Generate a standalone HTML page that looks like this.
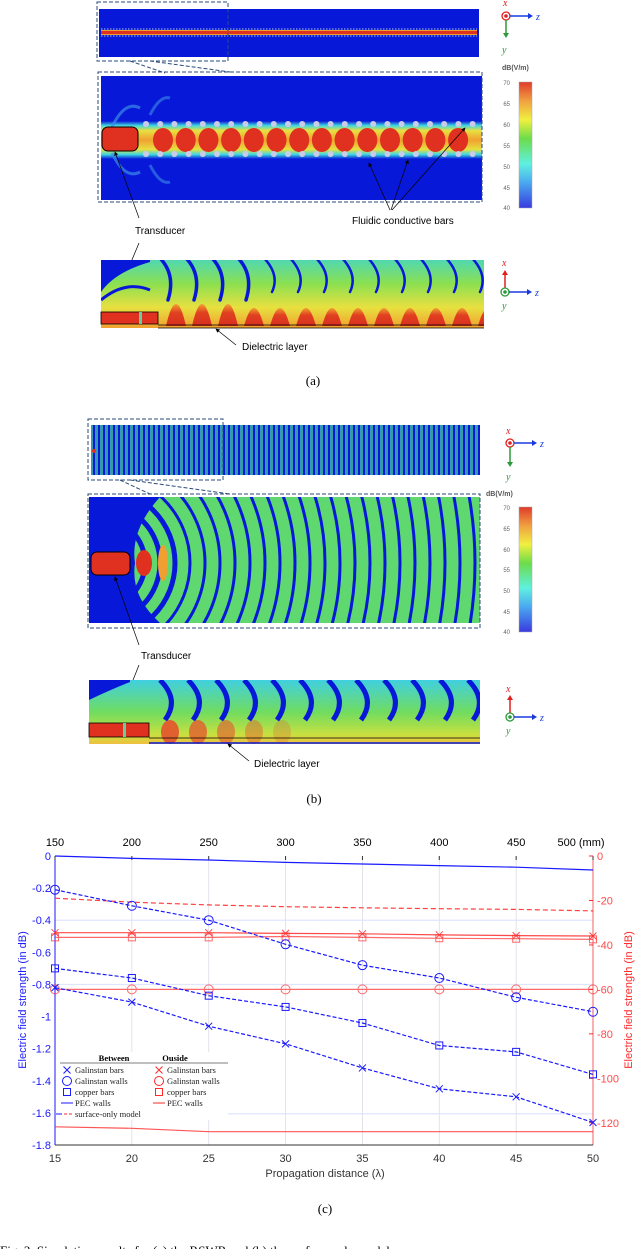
<!DOCTYPE html>
<html><head><meta charset="utf-8">
<style>
html,body{margin:0;padding:0;background:#fff;width:640px;height:1249px;overflow:hidden}
svg{display:block}
.sans{font-family:"Liberation Sans",sans-serif}
.serif{font-family:"Liberation Serif",serif}
</style></head>
<body>
<svg id="page" width="640" height="1249" viewBox="0 0 640 1249" xmlns="http://www.w3.org/2000/svg">
<defs>
  <linearGradient id="cbar" x1="0" y1="1" x2="0" y2="0">
    <stop offset="0" stop-color="#3a3ae0"/><stop offset="0.2" stop-color="#4aa8f0"/>
    <stop offset="0.35" stop-color="#5ff0e0"/><stop offset="0.55" stop-color="#6cdc4a"/>
    <stop offset="0.7" stop-color="#f0f040"/><stop offset="0.85" stop-color="#f0a040"/>
    <stop offset="1" stop-color="#e03a2a"/>
  </linearGradient>
  <linearGradient id="bandA" x1="0" y1="0" x2="0" y2="1">
    <stop offset="0" stop-color="#0818d8"/><stop offset="0.12" stop-color="#40d8e0"/>
    <stop offset="0.25" stop-color="#e8e040"/><stop offset="0.5" stop-color="#f0a030"/>
    <stop offset="0.75" stop-color="#e8e040"/><stop offset="0.88" stop-color="#40d8e0"/>
    <stop offset="1" stop-color="#0818d8"/>
  </linearGradient>
  <linearGradient id="sideA" x1="0" y1="0" x2="0" y2="1">
    <stop offset="0" stop-color="#50d8b0"/><stop offset="0.35" stop-color="#8ce050"/>
    <stop offset="0.7" stop-color="#e8e040"/><stop offset="1" stop-color="#f0a030"/>
  </linearGradient>
  <linearGradient id="sideB" x1="0" y1="0" x2="0" y2="1">
    <stop offset="0" stop-color="#40d0e0"/><stop offset="0.5" stop-color="#70dc60"/>
    <stop offset="0.85" stop-color="#c8e040"/><stop offset="1" stop-color="#f0c040"/>
  </linearGradient>
  <linearGradient id="bump" x1="0" y1="0" x2="0" y2="1">
    <stop offset="0" stop-color="#f0a030"/><stop offset="0.4" stop-color="#e04020"/><stop offset="1" stop-color="#d83020"/>
  </linearGradient>
  <pattern id="stripesB" width="5" height="10" patternUnits="userSpaceOnUse">
    <rect width="5" height="10" fill="#40c8a0"/><rect x="3" width="2" height="10" fill="#0818d8"/>
  </pattern>
  <clipPath id="clipBz"><rect x="89" y="497" width="391" height="126"/></clipPath>
  <clipPath id="clipBs"><rect x="89" y="680" width="391" height="64"/></clipPath>
  <clipPath id="clipAs"><rect x="101" y="260" width="383" height="68"/></clipPath>
  <clipPath id="clipAz"><rect x="101" y="76" width="381" height="124"/></clipPath>
  <marker id="ah" markerWidth="6" markerHeight="6" refX="5" refY="3" orient="auto"><path d="M0,0 L6,3 L0,6 z" fill="#000"/></marker>
</defs>

<!-- ================= PANEL A ================= -->
<g>
  <rect x="99" y="9" width="380" height="48" fill="#0818d8"/>
  <rect x="101" y="30" width="376" height="5" fill="#e8a030"/>
  <rect x="101" y="31" width="376" height="3" fill="#e03020"/>
  <line x1="101" y1="29" x2="477" y2="29" stroke="#b0c0e0" stroke-dasharray="1.5,1.5"/>
  <line x1="101" y1="36" x2="477" y2="36" stroke="#b0c0e0" stroke-dasharray="1.5,1.5"/>
  <rect x="97" y="2" width="131" height="59" fill="none" stroke="#2a4a7a" stroke-dasharray="4,2"/>
  <line x1="130" y1="61" x2="165" y2="73" stroke="#2a4a7a" stroke-dasharray="4,2"/>
  <line x1="150" y1="61" x2="230" y2="72" stroke="#2a4a7a" stroke-dasharray="4,2"/>

  <g>
    <rect x="101" y="76" width="381" height="124" fill="#0818d8"/>
    <g clip-path="url(#clipAz)">
      <rect x="101" y="121" width="381" height="38" fill="url(#bandA)"/>
      <path d="M112,127 Q125,100 140,108" stroke="#3a8ce8" stroke-width="3" fill="none" opacity="0.7"/>
      <path d="M112,153 Q125,180 140,172" stroke="#3a8ce8" stroke-width="3" fill="none" opacity="0.7"/>
      <path d="M150,115 Q160,95 170,98" stroke="#3a8ce8" stroke-width="3" fill="none" opacity="0.6"/>
      <path d="M150,165 Q160,185 170,182" stroke="#3a8ce8" stroke-width="3" fill="none" opacity="0.6"/>
      <g id="aEll"></g>
      <g id="aDots"></g>
      <rect x="102" y="127" width="36" height="24" rx="6" fill="#e03020" stroke="#000" stroke-width="1"/>
    </g>
    <rect x="98" y="72" width="384" height="130" fill="none" stroke="#2a4a7a" stroke-dasharray="4,2"/>
  </g>

  <g>
    <text class="sans" x="502" y="70" font-size="7" font-weight="bold" fill="#555">dB(V/m)</text>
    <rect x="519" y="82" width="13" height="126" fill="url(#cbar)" stroke="#aaa" stroke-width="0.5"/>
    <g class="sans" font-size="6" fill="#666" text-anchor="end">
      <text x="510" y="85">70</text><text x="510" y="106">65</text><text x="510" y="127">60</text>
      <text x="510" y="148">55</text><text x="510" y="169">50</text><text x="510" y="190">45</text><text x="510" y="210">40</text>
    </g>
  </g>

  <g>
    <text class="serif" x="503" y="6" font-size="10" font-style="italic" fill="#e02020">x</text>
    <circle cx="506" cy="16" r="4" fill="none" stroke="#e02020" stroke-width="1.3"/><circle cx="506" cy="16" r="1.8" fill="#e02020"/>
    <line x1="510" y1="16" x2="528" y2="16" stroke="#1a3ae0" stroke-width="1.5"/><path d="M528,13 L533,16 L528,19z" fill="#1a3ae0"/>
    <text class="serif" x="536" y="20" font-size="10" font-style="italic" fill="#1a3ae0">z</text>
    <line x1="506" y1="20" x2="506" y2="33" stroke="#2a9a3a" stroke-width="1.5"/><path d="M503,33 L506,38 L509,33z" fill="#2a9a3a"/>
    <text class="serif" x="502" y="53" font-size="10" font-style="italic" fill="#2a9a3a">y</text>
  </g>

  <text class="sans" x="352" y="224" font-size="10" fill="#000">Fluidic conductive bars</text>
  <line x1="390" y1="210" x2="369" y2="163" stroke="#000" stroke-width="0.7" marker-end="url(#ah)"/>
  <line x1="391" y1="210" x2="408" y2="160" stroke="#000" stroke-width="0.7" marker-end="url(#ah)"/>
  <line x1="392" y1="210" x2="465" y2="128" stroke="#000" stroke-width="0.7" marker-end="url(#ah)"/>
  <text class="sans" x="135" y="234" font-size="10" fill="#000">Transducer</text>
  <line x1="139" y1="218" x2="115" y2="152" stroke="#000" stroke-width="0.7" marker-end="url(#ah)"/>
  <line x1="139" y1="243" x2="111" y2="310" stroke="#000" stroke-width="0.7" marker-end="url(#ah)"/>

  <g>
    <rect x="101" y="260" width="383" height="68" fill="url(#sideA)"/>
    <g clip-path="url(#clipAs)" id="aSide"></g>
    <rect x="101" y="312" width="57" height="12" fill="#e03020" stroke="#000" stroke-width="0.8"/>
    <rect x="139" y="312" width="3" height="12" fill="#60d0a0"/>
    <line x1="158" y1="325" x2="484" y2="325" stroke="#000" stroke-width="0.8"/>
    <line x1="158" y1="328" x2="484" y2="328" stroke="#000" stroke-width="0.8"/>
  </g>
  <g>
    <text class="serif" x="502" y="266" font-size="10" font-style="italic" fill="#e02020">x</text>
    <line x1="505" y1="288" x2="505" y2="275" stroke="#e02020" stroke-width="1.5"/><path d="M502,275 L505,270 L508,275z" fill="#e02020"/>
    <circle cx="505" cy="292" r="4" fill="none" stroke="#2a9a3a" stroke-width="1.3"/><circle cx="505" cy="292" r="1.8" fill="#2a9a3a"/>
    <line x1="509" y1="292" x2="527" y2="292" stroke="#1a3ae0" stroke-width="1.5"/><path d="M527,289 L532,292 L527,295z" fill="#1a3ae0"/>
    <text class="serif" x="535" y="296" font-size="10" font-style="italic" fill="#1a3ae0">z</text>
    <text class="serif" x="502" y="309" font-size="10" font-style="italic" fill="#2a9a3a">y</text>
  </g>
  <text class="sans" x="242" y="350" font-size="10" fill="#000">Dielectric layer</text>
  <line x1="236" y1="345" x2="216" y2="329" stroke="#000" stroke-width="0.7" marker-end="url(#ah)"/>
  <text class="serif" x="313" y="385" font-size="13" text-anchor="middle">(a)</text>
</g>

<!-- ================= PANEL B ================= -->
<g>
  <rect x="91" y="425" width="389" height="50" fill="url(#stripesB)"/>
  <rect x="91" y="425" width="389" height="50" fill="#0818d8" opacity="0.25"/>
  <circle cx="94" cy="451" r="2" fill="#e03020"/>
  <rect x="88" y="419" width="135" height="61" fill="none" stroke="#2a4a7a" stroke-dasharray="4,2"/>
  <line x1="120" y1="480" x2="150" y2="494" stroke="#2a4a7a" stroke-dasharray="4,2"/>
  <line x1="130" y1="480" x2="230" y2="494" stroke="#2a4a7a" stroke-dasharray="4,2"/>

  <g>
    <rect x="89" y="497" width="391" height="126" fill="#0818d8"/>
    <g clip-path="url(#clipBz)" id="bZoom"></g>
    <rect x="91" y="552" width="39" height="23" rx="6" fill="#e03020" stroke="#000" stroke-width="1"/>
    <rect x="88" y="494" width="392" height="134" fill="none" stroke="#2a4a7a" stroke-dasharray="4,2"/>
  </g>
  <g>
    <text class="sans" x="486" y="496" font-size="7" font-weight="bold" fill="#555">dB(V/m)</text>
    <rect x="519" y="507" width="13" height="125" fill="url(#cbar)" stroke="#aaa" stroke-width="0.5"/>
    <g class="sans" font-size="6" fill="#666" text-anchor="end">
      <text x="510" y="510">70</text><text x="510" y="531">65</text><text x="510" y="552">60</text>
      <text x="510" y="572">55</text><text x="510" y="593">50</text><text x="510" y="614">45</text><text x="510" y="634">40</text>
    </g>
  </g>
  <g>
    <text class="serif" x="506" y="434" font-size="10" font-style="italic" fill="#e02020">x</text>
    <circle cx="510" cy="443" r="4" fill="none" stroke="#e02020" stroke-width="1.3"/><circle cx="510" cy="443" r="1.8" fill="#e02020"/>
    <line x1="514" y1="443" x2="532" y2="443" stroke="#1a3ae0" stroke-width="1.5"/><path d="M532,440 L537,443 L532,446z" fill="#1a3ae0"/>
    <text class="serif" x="540" y="447" font-size="10" font-style="italic" fill="#1a3ae0">z</text>
    <line x1="510" y1="447" x2="510" y2="462" stroke="#2a9a3a" stroke-width="1.5"/><path d="M507,462 L510,467 L513,462z" fill="#2a9a3a"/>
    <text class="serif" x="506" y="480" font-size="10" font-style="italic" fill="#2a9a3a">y</text>
  </g>
  <text class="sans" x="141" y="659" font-size="10" fill="#000">Transducer</text>
  <line x1="139" y1="645" x2="115" y2="577" stroke="#000" stroke-width="0.7" marker-end="url(#ah)"/>
  <line x1="139" y1="665" x2="112" y2="733" stroke="#000" stroke-width="0.7" marker-end="url(#ah)"/>

  <g>
    <rect x="89" y="680" width="391" height="64" fill="url(#sideB)"/>
    <g clip-path="url(#clipBs)" id="bSide"></g>
    <rect x="89" y="723" width="60" height="14" fill="#e03020" stroke="#000" stroke-width="0.8"/>
    <rect x="123" y="723" width="3" height="14" fill="#60d0a0"/>
    <line x1="149" y1="738" x2="480" y2="738" stroke="#000" stroke-width="0.8"/>
    <line x1="149" y1="743" x2="480" y2="743" stroke="#0818d8" stroke-width="1.5"/>
  </g>
  <g>
    <text class="serif" x="506" y="692" font-size="10" font-style="italic" fill="#e02020">x</text>
    <line x1="510" y1="713" x2="510" y2="700" stroke="#e02020" stroke-width="1.5"/><path d="M507,700 L510,695 L513,700z" fill="#e02020"/>
    <circle cx="510" cy="717" r="4" fill="none" stroke="#2a9a3a" stroke-width="1.3"/><circle cx="510" cy="717" r="1.8" fill="#2a9a3a"/>
    <line x1="514" y1="717" x2="532" y2="717" stroke="#1a3ae0" stroke-width="1.5"/><path d="M532,714 L537,717 L532,720z" fill="#1a3ae0"/>
    <text class="serif" x="540" y="721" font-size="10" font-style="italic" fill="#1a3ae0">z</text>
    <text class="serif" x="506" y="734" font-size="10" font-style="italic" fill="#2a9a3a">y</text>
  </g>
  <text class="sans" x="254" y="767" font-size="10" fill="#000">Dielectric layer</text>
  <line x1="249" y1="761" x2="228" y2="744" stroke="#000" stroke-width="0.7" marker-end="url(#ah)"/>
  <text class="serif" x="314" y="803" font-size="13" text-anchor="middle">(b)</text>
</g>

<!-- ================= PANEL C (chart) ================= -->
<g id="chart"></g>
<text class="serif" x="325" y="1213" font-size="13" text-anchor="middle">(c)</text>
<text class="serif" x="0" y="1255" font-size="13">Fig. 2.   Simulation results for (a) the RSWR and (b) the surface-only model</text>
</svg>

<script>
// ---------- chart data ----------
const xVals = [15, 20, 25, 30, 35, 40, 45, 50];
const topTickLabels = ["150", "200", "250", "300", "350", "400", "450", "500 (mm)"];
const leftTicks = [0, -0.2, -0.4, -0.6, -0.8, -1, -1.2, -1.4, -1.6, -1.8];
const rightTicks = [0, -20, -40, -60, -80, -100, -120];
const blueGalBars = [-0.82, -0.91, -1.06, -1.17, -1.32, -1.45, -1.50, -1.66];
const blueGalWalls = [-0.21, -0.31, -0.40, -0.55, -0.68, -0.76, -0.88, -0.97];
const blueCopper = [-0.70, -0.76, -0.87, -0.94, -1.04, -1.18, -1.22, -1.36];
const bluePEC = [0, -0.015, -0.025, -0.04, -0.05, -0.06, -0.07, -0.087];
const redGalBars = [-34.5, -34.5, -34.5, -34.8, -35, -35.5, -35.8, -36];
const redGalWalls = [-60, -60, -60, -60, -60, -60, -60, -60];
const redCopper = [-36.6, -36.6, -36.6, -36.2, -36.6, -37, -37.2, -37.5];
const redPEC = [-121.8, -122.5, -124, -124, -124, -124, -124, -124];
const redSurface = [-19, -20.8, -22, -22.8, -23.3, -23.7, -24, -24.7];

const NS = "http://www.w3.org/2000/svg";
const X0 = 55, X1 = 593, YT = 856, YB = 1145;
const xS = v => X0 + (v - 15) * (X1 - X0) / 35;
const yL = v => YT - v * (YB - YT) / 1.8;
const yR = v => YT - v * (YB - YT) / 130;
const BLUE = "#1a1aff", RED = "#ff2a2a";
const chart = document.getElementById("chart");

function mk(tag, attrs, parent) {
  const e = document.createElementNS(NS, tag);
  for (const k in attrs) e.setAttribute(k, attrs[k]);
  (parent || chart).appendChild(e);
  return e;
}
function txt(s, attrs, parent) { const t = mk("text", attrs, parent); t.textContent = s; return t; }

// grid
xVals.forEach((v, i) => {
  const g = mk("line", {x1: xS(v), x2: xS(v), y1: YT, y2: YB, stroke: "#dcdce6", "stroke-width": 0.8});
  
  
});
[-0.4, -0.8].forEach(v => {
  const g = mk("line", {x1: X0, x2: X1, y1: yL(v), y2: yL(v), stroke: "#dfe4ff", "stroke-width": 1.2});
  
  
});
mk("line", {x1: 228, x2: X1, y1: yR(-116), y2: yR(-116), stroke: "#dfe4ff", "stroke-width": 1.2});

// axes
const ax1 = mk("line", {x1: X0, x2: X0, y1: YT, y2: YB, stroke: BLUE, "stroke-width": 1});


const ax2 = mk("line", {x1: X1, x2: X1, y1: YT, y2: YB, stroke: RED, "stroke-width": 1, opacity: 0.7});


const ax3 = mk("line", {x1: X0, x2: X1, y1: YB, y2: YB, stroke: "#333", "stroke-width": 1});



xVals.forEach((v, i) => {
  const t = txt(String(v), {x: xS(v), y: YB + 17, "font-size": 11, "text-anchor": "middle", fill: "#333", class: "sans"});
  
  
  const t2 = txt(topTickLabels[i], {x: i === 7 ? xS(v) - 12 : xS(v), y: YT - 10, "font-size": 11, "text-anchor": "middle", fill: "#000", class: "sans"});
  
  
  mk("line", {x1: xS(v), x2: xS(v), y1: YT, y2: YT + 4, stroke: "#333"});
});
leftTicks.forEach(v => {
  const t = txt(String(v), {x: X0 - 4, y: yL(v) + 4, "font-size": 11, "text-anchor": "end", fill: BLUE, class: "sans"});
  
  
});
rightTicks.forEach(v => {
  const t = txt(String(v), {x: X1 + 4, y: yR(v) + 4, "font-size": 11, "text-anchor": "start", fill: RED, class: "sans", opacity: 0.85});
  
  
  mk("line", {x1: X1 - 4, x2: X1, y1: yR(v), y2: yR(v), stroke: RED});
});
const lt = txt("Electric field strength (in dB)", {x: 0, y: 0, "font-size": 11, "text-anchor": "middle", fill: BLUE, class: "sans", transform: "translate(26,1000) rotate(-90)"});


const rt = txt("Electric field strength (in dB)", {x: 0, y: 0, "font-size": 11, "text-anchor": "middle", fill: RED, class: "sans", transform: "translate(632,1000) rotate(-90)"});


const xt = txt("Propagation distance (λ)", {x: 325, y: 1177, "font-size": 11, "text-anchor": "middle", fill: "#333", class: "sans"});



function marker(type, x, y, color, parent) {
  const g = parent || chart;
  if (type === "x") {
    mk("path", {d: `M${x-3.5},${y-3.5}L${x+3.5},${y+3.5}M${x-3.5},${y+3.5}L${x+3.5},${y-3.5}`, stroke: color, "stroke-width": 1, fill: "none"}, g);
  } else if (type === "o") {
    mk("circle", {cx: x, cy: y, r: 4.5, stroke: color, "stroke-width": 1, fill: "none"}, g);
  } else if (type === "s") {
    mk("rect", {x: x - 3.5, y: y - 3.5, width: 7, height: 7, stroke: color, "stroke-width": 1, fill: "none"}, g);
  }
}
function series(vals, scale, color, dash, mtype, name, opacity) {
  const g = mk("g", {opacity: opacity || 1});
  
  
  const pts = vals.map((v, i) => xS(xVals[i]).toFixed(1) + "," + scale(v).toFixed(1)).join(" ");
  mk("polyline", {points: pts, fill: "none", stroke: color, "stroke-width": 1.2, "stroke-dasharray": dash || "none"}, g);
  if (mtype) vals.forEach((v, i) => marker(mtype, xS(xVals[i]), scale(v), color, g));
}
series(redPEC, yR, RED, null, null, "series-red-pec-walls", 0.8);
series(redSurface, yR, RED, "5,3", null, "series-red-surface-only", 0.9);
series(redGalWalls, yR, RED, null, "o", "series-red-galinstan-walls", 0.7);
series(redCopper, yR, RED, null, "s", "series-red-copper-bars", 0.7);
series(redGalBars, yR, RED, null, "x", "series-red-galinstan-bars", 0.85);
series(bluePEC, yL, BLUE, null, null, "series-blue-pec-walls", 1);
series(blueGalWalls, yL, BLUE, "4,2", "o", "series-blue-galinstan-walls", 1);
series(blueCopper, yL, BLUE, "4,2", "s", "series-blue-copper-bars", 1);
series(blueGalBars, yL, BLUE, "4,2", "x", "series-blue-galinstan-bars", 1);

// legend
const lg = mk("g", {});


mk("rect", {x: 60, y: 1052, width: 168, height: 68, fill: "#fff", opacity: 0.92}, lg);
mk("line", {x1: 60, x2: 228, y1: 1063, y2: 1063, stroke: "#555", "stroke-width": 0.7}, lg);
txt("Between", {x: 114, y: 1061, "font-size": 8.5, "font-weight": "bold", "text-anchor": "middle", class: "serif"}, lg);
txt("Ouside", {x: 175, y: 1061, "font-size": 8.5, "font-weight": "bold", "text-anchor": "middle", class: "serif"}, lg);
const legRows = [["x", "Galinstan bars"], ["o", "Galinstan walls"], ["s", "copper bars"], ["l", "PEC walls"]];
legRows.forEach((r, i) => {
  const y = 1070 + i * 11;
  [[67, 75, BLUE], [159, 167, RED]].forEach(([mx, tx, c]) => {
    const e = mk("g", {}, lg);
    
    
    if (r[0] === "l") mk("line", {x1: mx - 6, x2: mx + 6, y1: y, y2: y, stroke: c}, e);
    else marker(r[0], mx, y, c, e);
    txt(r[1], {x: tx, y: y + 3, "font-size": 8.5, class: "serif", fill: "#222"}, e);
  });
});
const se = mk("g", {}, lg);


mk("line", {x1: 56, x2: 62, y1: 1114, y2: 1114, stroke: BLUE}, se);
mk("line", {x1: 64, x2: 73, y1: 1114, y2: 1114, stroke: RED, "stroke-dasharray": "3,2"}, se);
txt("surface-only model", {x: 75, y: 1117, "font-size": 8.5, class: "serif", fill: "#222"}, se);

// ---------- field-map decorations (not chart data) ----------
const aEll = document.getElementById("aEll");
for (let i = 0; i < 14; i++) {
  const cx = 163 + i * 22.7;
  mk("ellipse", {cx: cx, cy: 140, rx: 10, ry: 12, fill: "#e03020"}, aEll);
}
const aDots = document.getElementById("aDots");
for (let i = 0; i < 24; i++) {
  const cx = 146 + i * 14.2;
  mk("circle", {cx: cx, cy: 124, r: 3, fill: "#c8cce8"}, aDots);
  mk("circle", {cx: cx, cy: 154, r: 3, fill: "#c8cce8"}, aDots);
}
const aSide = document.getElementById("aSide");
for (let i = 0; i < 14; i++) {
  const cx = 160 + i * 26;
  mk("path", {d: `M${cx},258 Q${cx + 16},275 ${cx + 8},${i < 4 ? 300 : 292}`, stroke: "#0818d8", "stroke-width": i < 4 ? 3.5 : 2.5, fill: "none", "stroke-linecap": "round"}, aSide);
  mk("path", {d: `M${cx + 6},326 Q${cx + 16},${i < 3 ? 282 : 290} ${cx + 26},326z`, fill: "url(#bump)"}, aSide);
}
mk("path", {d: "M101,260 L101,292 Q115,272 150,262 L150,260z", fill: "#0818d8"}, aSide);
mk("path", {d: "M101,300 Q125,280 150,290", stroke: "#0818d8", "stroke-width": 3, fill: "none"}, aSide);

const bZoom = document.getElementById("bZoom");
mk("rect", {x: 89, y: 497, width: 391, height: 126, fill: "#60d870"}, bZoom);
for (let r = 30; r < 480; r += 15) {
  mk("circle", {cx: 100, cy: 563, r: r, fill: "none", stroke: "#0818d8", "stroke-width": r < 90 ? 5 : 3}, bZoom);
}
mk("path", {d: "M89,497 L160,497 Q130,530 135,563 Q130,596 160,623 L89,623z", fill: "#0818d8"}, bZoom);
mk("ellipse", {cx: 144, cy: 563, rx: 8, ry: 13, fill: "#e03020"}, bZoom);
mk("ellipse", {cx: 163, cy: 563, rx: 5, ry: 18, fill: "#f0a030"}, bZoom);

const bSide = document.getElementById("bSide");
for (let i = 0; i < 13; i++) {
  const cx = 160 + i * 28;
  mk("path", {d: `M${cx},680 Q${cx + 20},700 ${cx + 5},720`, stroke: "#0818d8", "stroke-width": 5, fill: "none"}, bSide);
  if (i < 5) mk("ellipse", {cx: cx + 10, cy: 732, rx: 9, ry: 12, fill: "#e06030", opacity: 1 - i * 0.18}, bSide);
}
mk("path", {d: "M89,680 L89,700 Q110,690 130,682 L130,680z", fill: "#0818d8"}, bSide);
</script>
</body></html>
